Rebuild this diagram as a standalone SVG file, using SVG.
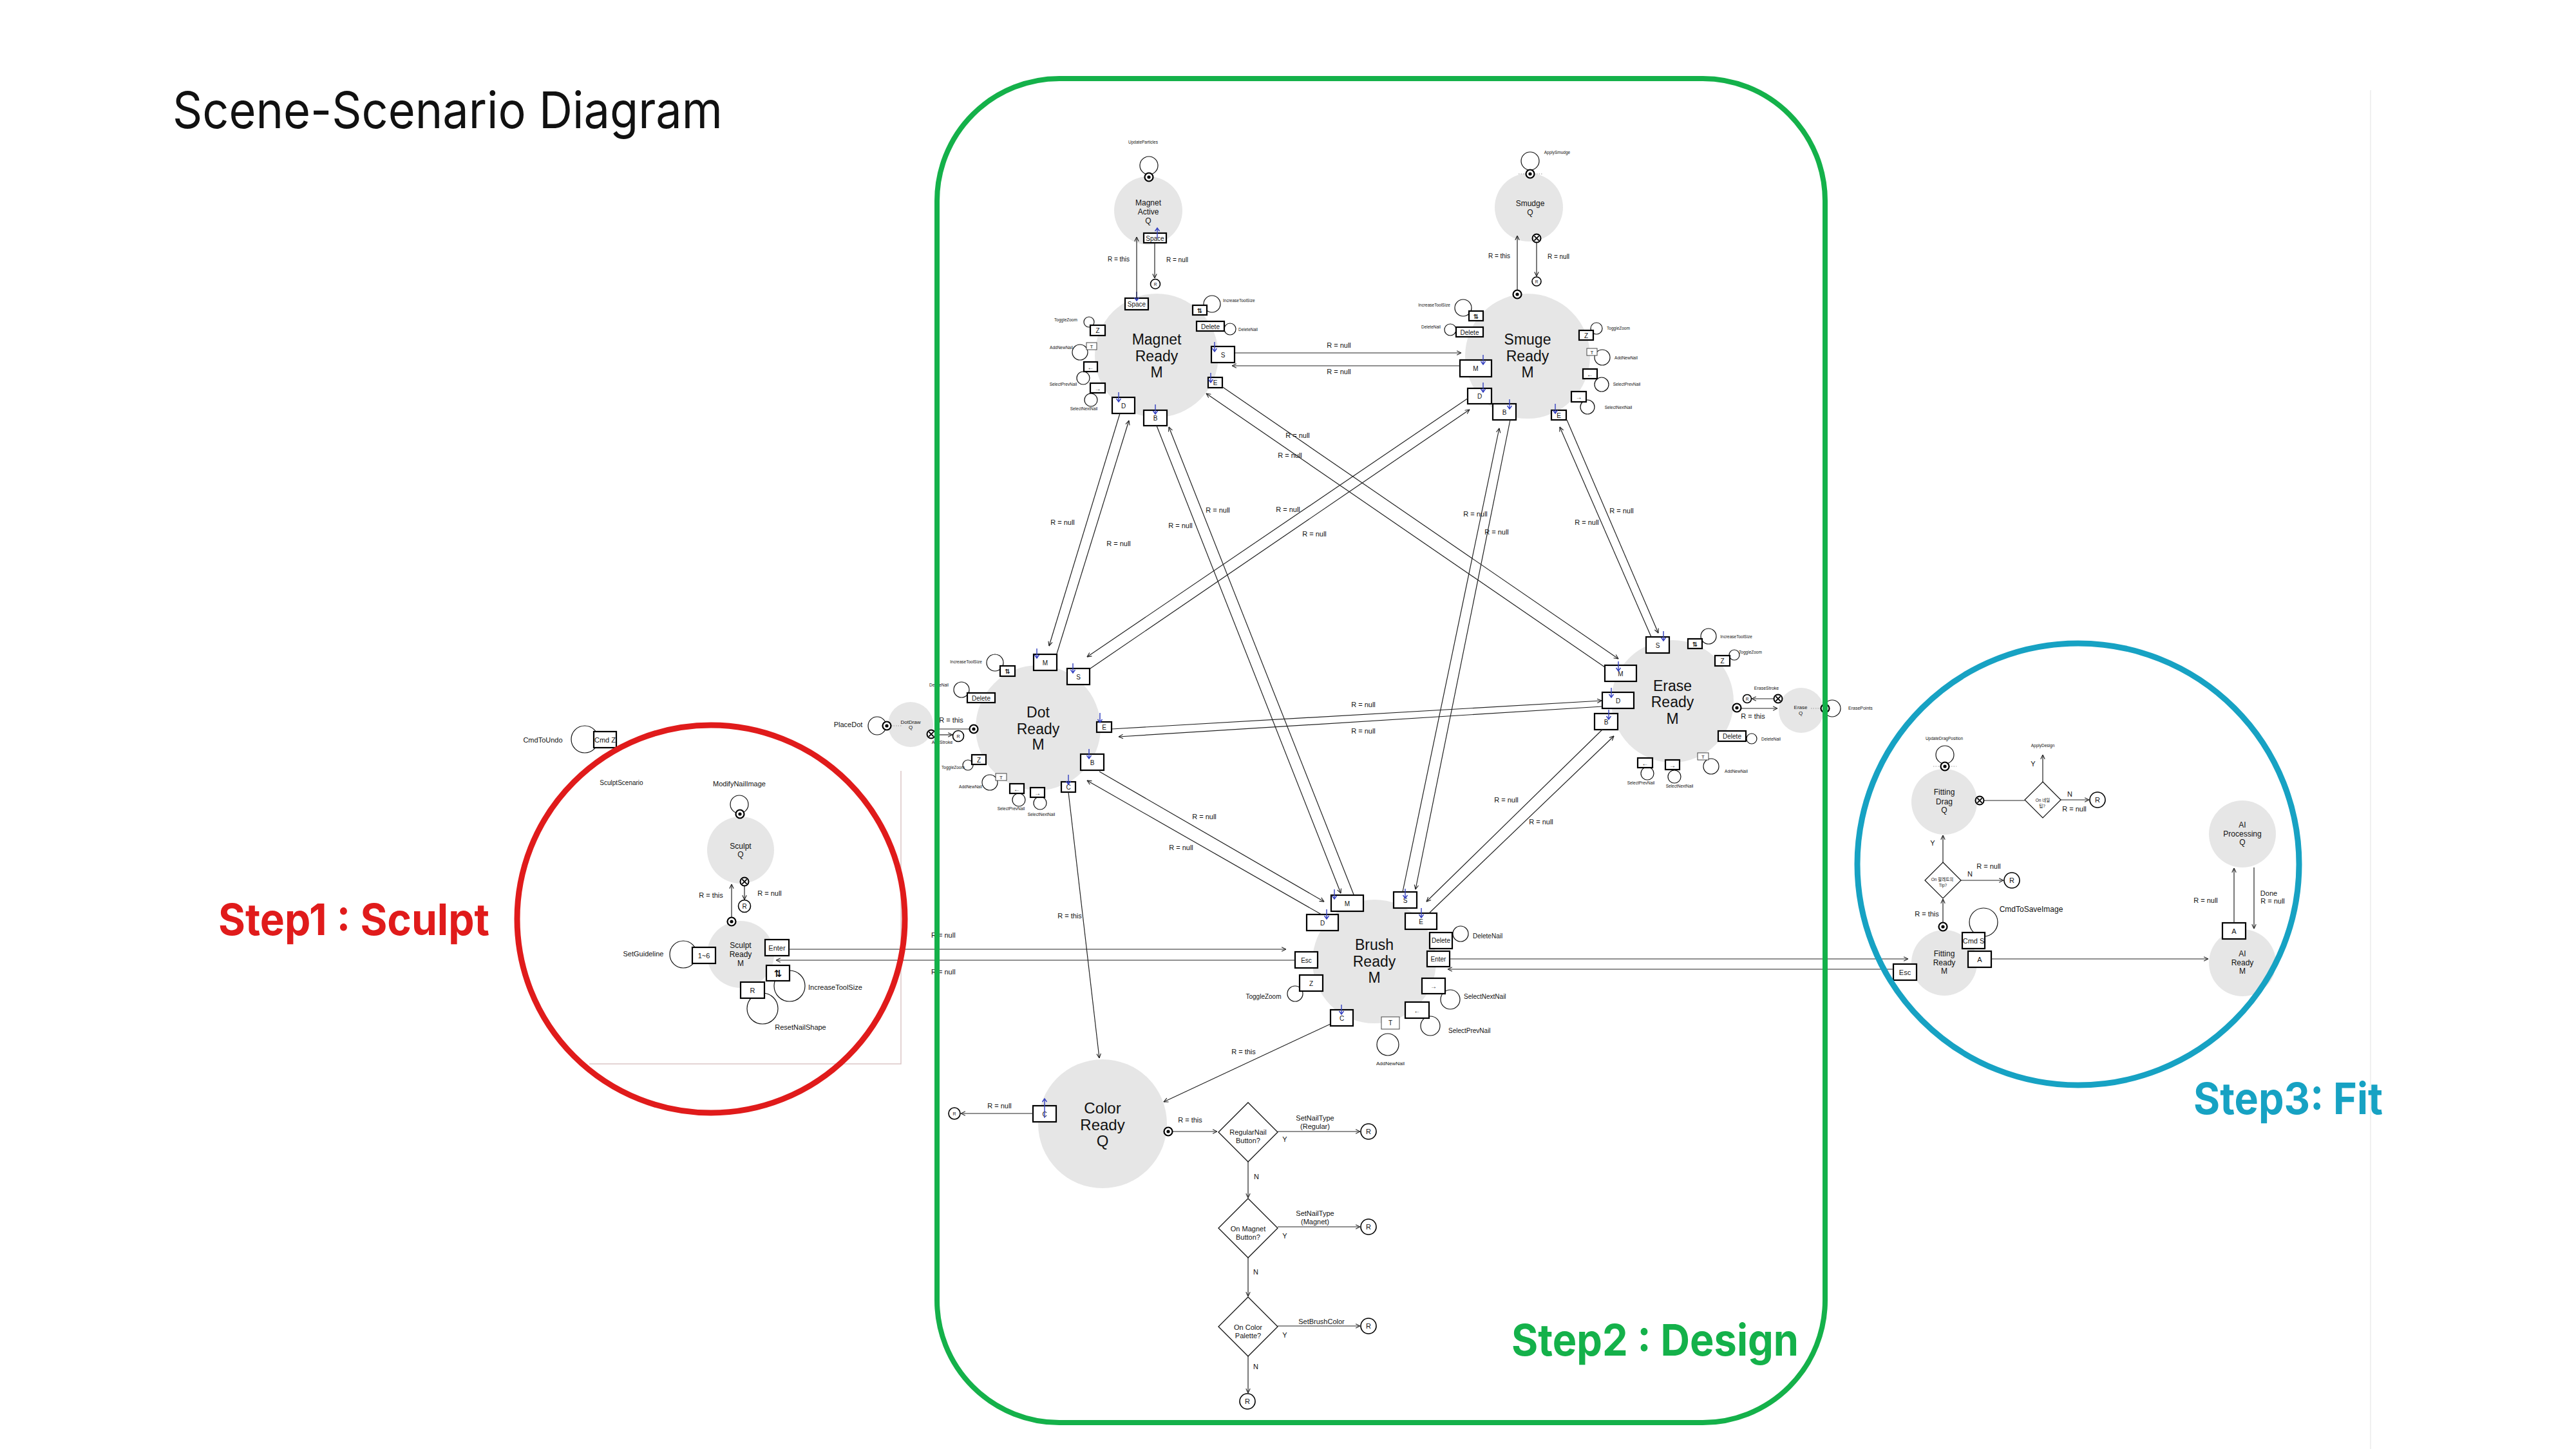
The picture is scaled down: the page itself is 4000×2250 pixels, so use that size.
<svg xmlns="http://www.w3.org/2000/svg" width="4000" height="2250" viewBox="0 0 4000 2250">
<defs>
<style>
text{font-family:"Liberation Sans","Noto Sans CJK KR",Arial,sans-serif;fill:#111;text-anchor:middle}
.st{text-anchor:start}
.n{fill:#e6e6e6}
.b{fill:#fff;stroke:#000;stroke-width:2.2}
.bt{fill:#fff;stroke:#444;stroke-width:1}
.l{fill:none;stroke:#222;stroke-width:1.2}
.la{fill:none;stroke:#222;stroke-width:1.2;marker-end:url(#a)}
.lp{fill:none;stroke:#111;stroke-width:1.2}
.ba{fill:none;stroke:#3440c0;stroke-width:1.4}
.dt{fill:none;stroke:#999;stroke-width:1;stroke-dasharray:1.5 2}
.rc{fill:#fff;stroke:#000;stroke-width:1.6}
.f24{font-size:24px}.f23{font-size:23px}.f12{font-size:12px}.f11{font-size:11px}.f10{font-size:10px}.f8{font-size:8px}.f7{font-size:7px}.f6{font-size:6.5px}
.sym{font-family:"DejaVu Sans",sans-serif;font-weight:bold}
.big{font-family:Inter,"Liberation Sans",sans-serif;text-anchor:start}
</style>
<marker id="a" viewBox="0 0 10 10" refX="9.5" refY="5" markerWidth="8" markerHeight="8" markerUnits="userSpaceOnUse" orient="auto"><path d="M1,1 L9.5,5 L1,9" fill="none" stroke="#222" stroke-width="1.4"/></marker>
<g id="sd"><circle r="6.5" fill="#fff" stroke="#000" stroke-width="2.2"/><circle r="2.6" fill="#000"/></g>
<g id="xc"><circle r="6.5" fill="#fff" stroke="#000" stroke-width="2"/><path d="M-3.6,-3.6L3.6,3.6M-3.6,3.6L3.6,-3.6" stroke="#000" stroke-width="1.8"/></g>
</defs>
<rect width="4000" height="2250" fill="#fff"/>
<line x1="3681" y1="140" x2="3681" y2="2250" stroke="#f0f0f0" stroke-width="2"/>
<text class="big" x="268" y="199" style="font-size:78px" textLength="854" lengthAdjust="spacingAndGlyphs">Scene-Scenario Diagram</text>

<!-- Sculpt scenario frame -->
<path d="M1399,1197V1652H915" fill="none" stroke="#dcc6c6" stroke-width="1.5"/>

<g id="magnet-active">
<circle class="n" cx="1783" cy="327" r="53"/>
<text class="f12" x="1783" y="319">Magnet</text><text class="f12" x="1783" y="333">Active</text><text class="f12" x="1783" y="347">Q</text>
<circle class="lp" cx="1784" cy="257" r="14"/>
<use href="#sd" x="1784" y="275"/>
<text class="f6" x="1775" y="223">UpdateParticles</text>
<rect class="b" x="1776" y="362" width="35" height="15"/><text class="f10" x="1793.5" y="373.5">Space</text>
<path class="ba" d="M1797,370v-16m-3.5,5l3.5,-5l3.5,5"/>
<text class="f10" x="1737" y="406">R = this</text>
<text class="f10" x="1828" y="407">R = null</text>
<circle class="rc" cx="1794" cy="441" r="7.5"/><text class="f6" x="1794" y="443.5">R</text>
</g>

<g id="magnet-ready">
<circle class="n" cx="1796" cy="552" r="96"/>
<text class="f23" x="1796" y="535">Magnet</text><text class="f23" x="1796" y="561">Ready</text><text class="f23" x="1796" y="586">M</text>
<circle class="lp" cx="1882" cy="472" r="13"/><circle class="lp" cx="1910" cy="511" r="9"/><circle class="lp" cx="1691" cy="500" r="8"/><circle class="lp" cx="1677" cy="547" r="12"/><circle class="lp" cx="1682" cy="587" r="10"/><circle class="lp" cx="1694" cy="621" r="10"/>
<rect class="b" x="1747" y="463" width="36" height="18"/><text class="f10" x="1765" y="476">Space</text>
<rect class="b" x="1852" y="474" width="22" height="15"/><text class="f10 sym" x="1863" y="486">⇅</text>
<rect class="b" x="1858" y="499" width="43" height="15"/><text class="f10" x="1879.5" y="510.5">Delete</text>
<rect class="b" x="1881" y="538" width="36" height="25"/><text class="f10" x="1899" y="555">S</text>
<rect class="b" x="1876" y="586" width="22" height="16"/><text class="f10" x="1887" y="598">E</text>
<rect class="b" x="1693" y="505" width="23" height="16"/><text class="f10" x="1704.5" y="517">Z</text>
<rect class="bt" x="1687" y="532" width="16" height="11"/><text class="f8" x="1695" y="541">T</text>
<rect class="b" x="1683" y="562" width="21" height="15"/><text class="f10" x="1693.5" y="573.5">←</text>
<rect class="b" x="1693" y="595" width="23" height="15"/><text class="f10" x="1704.5" y="606.5">→</text>
<rect class="b" x="1727" y="617" width="35" height="25"/><text class="f10" x="1744.5" y="634">D</text>
<rect class="b" x="1776" y="637" width="36" height="24"/><text class="f10" x="1794" y="653">B</text>
<text class="f6 st" x="1899" y="469">IncreaseToolSize</text>
<text class="f6 st" x="1923" y="514">DeleteNail</text>
<text class="f6" x="1655" y="499">ToggleZoom</text>
<text class="f6" x="1648" y="542">AddNewNail</text>
<text class="f6" x="1651" y="599">SelectPrevNail</text>
<text class="f6" x="1683" y="637">SelectNextNail</text>
<path class="ba" d="M1886,531v15m-3.5,-5l3.5,5l3.5,-5M1880,579v15m-3.5,-5l3.5,5l3.5,-5M1737,609v15m-3.5,-5l3.5,5l3.5,-5M1794,628v15m-3.5,-5l3.5,5l3.5,-5M1765,453v14m-3.5,-5l3.5,5l3.5,-5"/>
</g>

<g id="smudge">
<circle class="n" cx="2374" cy="322" r="53"/>
<text class="f12" x="2376" y="320">Smudge</text><text class="f12" x="2376" y="334">Q</text>
<circle class="lp" cx="2376" cy="250" r="14"/>
<line class="dt" x1="2358" y1="270" x2="2396" y2="270"/>
<use href="#sd" x="2376" y="270"/>
<text class="f6" x="2418" y="239">ApplySmudge</text>
<text class="f10" x="2328" y="401">R = this</text>
<text class="f10" x="2420" y="402">R = null</text>
<circle class="rc" cx="2386" cy="437" r="7" stroke-width="1"/><text class="f6" x="2386" y="439.5">R</text>
</g>

<g id="smuge-ready">
<circle class="n" cx="2372" cy="553" r="97"/>
<text class="f23" x="2372" y="535">Smuge</text><text class="f23" x="2372" y="561">Ready</text><text class="f23" x="2372" y="586">M</text>
<circle class="lp" cx="2272" cy="478" r="13"/><circle class="lp" cx="2252" cy="512" r="9"/><circle class="lp" cx="2479" cy="510" r="9"/><circle class="lp" cx="2488" cy="555" r="12"/><circle class="lp" cx="2487" cy="597" r="11"/><circle class="lp" cx="2465" cy="632" r="11"/>
<rect class="b" x="2281" y="483" width="22" height="15"/><text class="f10 sym" x="2292" y="495">⇅</text>
<rect class="b" x="2261" y="508" width="42" height="15"/><text class="f10" x="2282" y="519.5">Delete</text>
<rect class="b" x="2267" y="559" width="49" height="26"/><text class="f10" x="2291.5" y="576">M</text>
<rect class="b" x="2279" y="603" width="37" height="24"/><text class="f10" x="2297.5" y="619">D</text>
<rect class="b" x="2318" y="627" width="36" height="25"/><text class="f10" x="2336" y="643.5">B</text>
<rect class="b" x="2409" y="637" width="23" height="15"/><text class="f10" x="2420.5" y="648.5">E</text>
<rect class="b" x="2452" y="513" width="22" height="15"/><text class="f10" x="2463" y="524.5">Z</text>
<rect class="bt" x="2464" y="541" width="16" height="11"/><text class="f8" x="2472" y="550">T</text>
<rect class="b" x="2458" y="573" width="22" height="15"/><text class="f10" x="2469" y="584.5">←</text>
<rect class="b" x="2440" y="608" width="23" height="16"/><text class="f10" x="2451.5" y="620">→</text>
<text class="f6" x="2227" y="476">IncreaseToolSize</text>
<text class="f6" x="2222" y="510">DeleteNail</text>
<text class="f6" x="2513" y="512">ToggleZoom</text>
<text class="f6" x="2525" y="558">AddNewNail</text>
<text class="f6" x="2526" y="599">SelectPrevNail</text>
<text class="f6" x="2513" y="635">SelectNextNail</text>
<path class="ba" d="M2303,551v15m-3.5,-5l3.5,5l3.5,-5M2303,594v15m-3.5,-5l3.5,5l3.5,-5M2344,620v15m-3.5,-5l3.5,5l3.5,-5M2415,627v15m-3.5,-5l3.5,5l3.5,-5"/>
</g>

<g id="dot-draw">
<circle class="n" cx="1414" cy="1125" r="35"/>
<text class="f8" x="1414" y="1124">DotDraw</text><text class="f8" x="1414" y="1132">Q</text>
<text class="f11" x="1317" y="1129">PlaceDot</text>
<circle class="lp" cx="1362" cy="1127" r="14"/>
<line class="dt" x1="1377" y1="1127" x2="1400" y2="1127"/>
<use href="#sd" x="1377" y="1127"/>
<circle class="rc" cx="1488" cy="1143" r="8.5" stroke-width="1.2"/><text class="f7" x="1488" y="1145.5">R</text>
<text class="f11" x="1477" y="1122">R = this</text>
<text class="f7" x="1463" y="1155">AddStroke</text>
</g>

<g id="dot-ready">
<circle class="n" cx="1612" cy="1130" r="97"/>
<text class="f23" x="1612" y="1114">Dot</text><text class="f23" x="1612" y="1140">Ready</text><text class="f23" x="1612" y="1164">M</text>
<circle class="lp" cx="1545" cy="1029" r="13"/><circle class="lp" cx="1493" cy="1071" r="12"/><circle class="lp" cx="1503" cy="1188" r="8"/><circle class="lp" cx="1537" cy="1215" r="12"/><circle class="lp" cx="1582" cy="1242" r="10"/><circle class="lp" cx="1615" cy="1247" r="10"/>
<rect class="b" x="1605" y="1016" width="36" height="25"/><text class="f10" x="1623" y="1033">M</text>
<rect class="b" x="1657" y="1038" width="35" height="25"/><text class="f10" x="1674.5" y="1055">S</text>
<rect class="b" x="1553" y="1034" width="23" height="16"/><text class="f10 sym" x="1564.5" y="1046">⇅</text>
<rect class="b" x="1502" y="1076" width="43" height="15"/><text class="f10" x="1523.5" y="1087.5">Delete</text>
<rect class="b" x="1703" y="1121" width="23" height="16"/><text class="f10" x="1714.5" y="1133">E</text>
<rect class="b" x="1678" y="1171" width="36" height="25"/><text class="f10" x="1696" y="1188">B</text>
<rect class="b" x="1648" y="1214" width="22" height="16"/><text class="f10" x="1659" y="1226">C</text>
<rect class="b" x="1509" y="1172" width="22" height="15"/><text class="f10" x="1520" y="1183.5">Z</text>
<rect class="bt" x="1546" y="1201" width="17" height="11"/><text class="f8" x="1554.5" y="1210">T</text>
<rect class="b" x="1568" y="1217" width="22" height="15"/><text class="f10" x="1579" y="1228.5">←</text>
<rect class="b" x="1600" y="1223" width="22" height="15"/><text class="f10" x="1611" y="1234.5">→</text>
<text class="f6" x="1500" y="1030">IncreaseToolSize</text>
<text class="f6" x="1458" y="1066">DeleteNail</text>
<text class="f6" x="1480" y="1194">ToggleZoom</text>
<text class="f6" x="1507" y="1224">AddNewNail</text>
<text class="f6" x="1570" y="1258">SelectPrevNail</text>
<text class="f6" x="1617" y="1267">SelectNextNail</text>
<path class="ba" d="M1610,1007v15m-3.5,-5l3.5,5l3.5,-5M1666,1030v15m-3.5,-5l3.5,5l3.5,-5M1708,1107v15m-3.5,-5l3.5,5l3.5,-5M1691,1163v15m-3.5,-5l3.5,5l3.5,-5M1659,1203v15m-3.5,-5l3.5,5l3.5,-5"/>
</g>

<g id="erase-ready">
<circle class="n" cx="2597" cy="1089" r="95"/>
<text class="f23" x="2597" y="1073">Erase</text><text class="f23" x="2597" y="1098">Ready</text><text class="f23" x="2597" y="1124">M</text>
<circle class="lp" cx="2653" cy="988" r="12"/><circle class="lp" cx="2693" cy="1017" r="8"/><circle class="lp" cx="2720" cy="1147" r="8"/><circle class="lp" cx="2657" cy="1190" r="12"/><circle class="lp" cx="2558" cy="1201" r="10"/><circle class="lp" cx="2600" cy="1206" r="10"/>
<rect class="b" x="2556" y="989" width="36" height="25"/><text class="f10" x="2574" y="1006">S</text>
<rect class="b" x="2621" y="992" width="22" height="15"/><text class="f10 sym" x="2632" y="1004">⇅</text>
<rect class="b" x="2663" y="1018" width="23" height="16"/><text class="f10" x="2674.5" y="1030">Z</text>
<rect class="b" x="2492" y="1033" width="49" height="25"/><text class="f10" x="2516.5" y="1050">M</text>
<rect class="b" x="2488" y="1075" width="49" height="25"/><text class="f10" x="2512.5" y="1092">D</text>
<rect class="b" x="2476" y="1108" width="36" height="25"/><text class="f10" x="2494" y="1125">B</text>
<rect class="b" x="2668" y="1135" width="43" height="16"/><text class="f10" x="2689.5" y="1147">Delete</text>
<rect class="bt" x="2636" y="1169" width="17" height="11"/><text class="f8" x="2644.5" y="1178">T</text>
<rect class="b" x="2543" y="1177" width="23" height="15"/><text class="f10" x="2554.5" y="1188.5">←</text>
<rect class="b" x="2586" y="1180" width="22" height="15"/><text class="f10" x="2597" y="1191.5">→</text>
<text class="f6" x="2696" y="991">IncreaseToolSize</text>
<text class="f6" x="2718" y="1015">ToggleZoom</text>
<text class="f6" x="2750" y="1150">DeleteNail</text>
<text class="f6" x="2696" y="1200">AddNewNail</text>
<text class="f6" x="2548" y="1218">SelectPrevNail</text>
<text class="f6" x="2608" y="1223">SelectNextNail</text>
<path class="ba" d="M2583,980v15m-3.5,-5l3.5,5l3.5,-5M2513,1027v15m-3.5,-5l3.5,5l3.5,-5M2502,1068v15m-3.5,-5l3.5,5l3.5,-5M2498,1102v15m-3.5,-5l3.5,5l3.5,-5"/>
<text class="f7" x="2743" y="1071">EraseStroke</text>
<circle class="rc" cx="2713" cy="1085" r="6.5" stroke="#666" stroke-width="1"/><text class="f6" x="2713" y="1087.5" fill="#666">R</text>
<text class="f11" x="2722" y="1116">R = this</text>
</g>

<g id="erase">
<circle class="n" cx="2797" cy="1103" r="35"/>
<text class="f8" x="2796" y="1101">Erase</text><text class="f8" x="2796" y="1110">Q</text>
<circle class="lp" cx="2845" cy="1100" r="13"/>
<line class="dt" x1="2812" y1="1100" x2="2840" y2="1100"/>
<use href="#sd" x="2834" y="1100"/>
<text class="f7 st" x="2870" y="1102">ErasePoints</text>
</g>

<g id="brush-ready">
<circle class="n" cx="2134" cy="1493" r="96"/>
<text class="f23" x="2134" y="1475">Brush</text><text class="f23" x="2134" y="1501">Ready</text><text class="f23" x="2134" y="1526">M</text>
<circle class="lp" cx="2268" cy="1450" r="12"/><circle class="lp" cx="2252" cy="1552" r="15"/><circle class="lp" cx="2221" cy="1593" r="15"/><circle class="lp" cx="2155" cy="1622" r="17"/><circle class="lp" cx="2011" cy="1543" r="12"/>
<rect class="b" x="2067" y="1390" width="50" height="25"/><text class="f10" x="2092" y="1407">M</text>
<rect class="b" x="2029" y="1420" width="49" height="25"/><text class="f10" x="2053.5" y="1437">D</text>
<rect class="b" x="2164" y="1385" width="36" height="25"/><text class="f10" x="2182" y="1402">S</text>
<rect class="b" x="2182" y="1418" width="49" height="25"/><text class="f10" x="2206.5" y="1435">E</text>
<rect class="b" x="2220" y="1448" width="35" height="25"/><text class="f10" x="2237.5" y="1464">Delete</text>
<rect class="b" x="2216" y="1477" width="35" height="24"/><text class="f10" x="2233.5" y="1493">Enter</text>
<rect class="b" x="2011" y="1478" width="35" height="25"/><text class="f10" x="2028.5" y="1495">Esc</text>
<rect class="b" x="2018" y="1514" width="36" height="25"/><text class="f10" x="2036" y="1531">Z</text>
<rect class="b" x="2208" y="1519" width="36" height="24"/><text class="f10" x="2226" y="1535">→</text>
<rect class="b" x="2182" y="1556" width="37" height="25"/><text class="f10" x="2200.5" y="1573">←</text>
<rect class="bt" x="2145" y="1579" width="28" height="19"/><text class="f10" x="2159" y="1592">T</text>
<rect class="b" x="2066" y="1568" width="35" height="25"/><text class="f10" x="2083.5" y="1585">C</text>
<text class="f10 st" x="2287" y="1457">DeleteNail</text>
<text class="f10 st" x="2273" y="1551">SelectNextNail</text>
<text class="f10 st" x="2249" y="1604">SelectPrevNail</text>
<text class="f8" x="2159" y="1654">AddNewNail</text>
<text class="f10" x="1962" y="1551">ToggleZoom</text>
<path class="ba" d="M2072,1381v15m-3.5,-5l3.5,5l3.5,-5M2060,1412v15m-3.5,-5l3.5,5l3.5,-5M2182,1380v15m-3.5,-5l3.5,5l3.5,-5M2207,1410v15m-3.5,-5l3.5,5l3.5,-5M2083,1560v15m-3.5,-5l3.5,5l3.5,-5"/>
</g>

<g id="color-ready">
<circle class="n" cx="1712" cy="1745" r="100"/>
<text class="f24" x="1712" y="1729">Color</text><text class="f24" x="1712" y="1755">Ready</text><text class="f24" x="1712" y="1780">Q</text>
<rect class="b" x="1604" y="1717" width="36" height="25"/><text class="f10" x="1622" y="1734">C</text>
<path class="ba" d="M1622,1736v-30m-3.5,5l3.5,-5l3.5,5"/>
<circle class="rc" cx="1482" cy="1729" r="9" stroke-width="1.2"/><text class="f7" x="1482" y="1731.5">R</text>
<text class="f11" x="1552" y="1721">R = null</text>
<text class="f11" x="1848" y="1743">R = this</text>
</g>

<g id="color-decisions">
<polygon points="1938,1712 1984,1758 1938,1804 1892,1758" fill="#fff" stroke="#111" stroke-width="1.3"/>
<text class="f11" x="1938" y="1762">RegularNail</text><text class="f11" x="1938" y="1775">Button?</text>
<polygon points="1938,1861 1984,1907 1938,1953 1892,1907" fill="#fff" stroke="#111" stroke-width="1.3"/>
<text class="f11" x="1938" y="1912">On Magnet</text><text class="f11" x="1938" y="1925">Button?</text>
<polygon points="1938,2014 1984,2060 1938,2106 1892,2060" fill="#fff" stroke="#111" stroke-width="1.3"/>
<text class="f11" x="1938" y="2065">On Color</text><text class="f11" x="1938" y="2078">Palette?</text>
<text class="f11" x="2042" y="1740">SetNailType</text><text class="f11" x="2042" y="1753">(Regular)</text>
<text class="f11" x="2042" y="1888">SetNailType</text><text class="f11" x="2042" y="1901">(Magnet)</text>
<text class="f11" x="2052" y="2056">SetBrushColor</text>
<text class="f11" x="1995" y="1773">Y</text><text class="f11" x="1995" y="1923">Y</text><text class="f11" x="1995" y="2077">Y</text>
<text class="f11" x="1951" y="1831">N</text><text class="f11" x="1950" y="1979">N</text><text class="f11" x="1950" y="2126">N</text>
<circle class="rc" cx="2125" cy="1757" r="12"/><text class="f11" x="2125" y="1761">R</text>
<circle class="rc" cx="2125" cy="1905" r="12"/><text class="f11" x="2125" y="1909">R</text>
<circle class="rc" cx="2125" cy="2059" r="12"/><text class="f11" x="2125" y="2063">R</text>
<circle class="rc" cx="1937" cy="2176" r="12"/><text class="f11" x="1937" y="2180">R</text>
</g>

<g id="sculpt">
<circle class="n" cx="1150" cy="1320" r="52"/>
<text class="f12" x="1150" y="1318">Sculpt</text><text class="f12" x="1150" y="1331">Q</text>
<circle class="lp" cx="1148" cy="1249" r="14"/>
<use href="#sd" x="1149" y="1264"/>
<text class="f11" x="1148" y="1221">ModifyNailImage</text>
<text class="f10" x="965" y="1219" fill="#e04545">SculptScenario</text>
<text class="f11" x="1104" y="1394">R = this</text>
<text class="f11" x="1195" y="1391">R = null</text>
<circle class="rc" cx="1156" cy="1407" r="9.5"/><text class="f10" x="1156" y="1411">R</text>
</g>

<g id="sculpt-ready">
<circle class="n" cx="1150" cy="1482" r="52"/>
<text class="f12" x="1150" y="1472">Sculpt</text><text class="f12" x="1150" y="1486">Ready</text><text class="f12" x="1150" y="1500">M</text>
<circle class="lp" cx="1061" cy="1482" r="21"/><circle class="lp" cx="1226" cy="1531" r="24"/><circle class="lp" cx="1184" cy="1566" r="24"/><circle class="lp" cx="908" cy="1148" r="21"/>
<rect class="b" x="1075" y="1471" width="36" height="25"/><text class="f11" x="1093" y="1488">1~6</text>
<rect class="b" x="1188" y="1459" width="37" height="25"/><text class="f11" x="1206.5" y="1476">Enter</text>
<rect class="b" x="1190" y="1499" width="36" height="24"/><text class="sym" style="font-size:15px" x="1208" y="1517">⇅</text>
<rect class="b" x="1150" y="1525" width="37" height="25"/><text class="f11" x="1168.5" y="1542">R</text>
<rect class="b" x="922" y="1136" width="35" height="25"/><text class="f11" x="939.5" y="1153">Cmd Z</text>
<text class="f11" x="999" y="1485">SetGuideline</text>
<text class="f11 st" x="1255" y="1537">IncreaseToolSize</text>
<text class="f11" x="1243" y="1599">ResetNailShape</text>
<text class="f11" x="843" y="1153">CmdToUndo</text>
</g>

<g id="fitting-drag">
<circle class="n" cx="3019" cy="1245" r="51"/>
<text class="f12" x="3019" y="1234">Fitting</text><text class="f12" x="3019" y="1249">Drag</text><text class="f12" x="3019" y="1262">Q</text>
<circle class="lp" cx="3020" cy="1172" r="14"/>
<line class="dt" x1="3002" y1="1190" x2="3038" y2="1190"/>
<use href="#sd" x="3020" y="1190"/>
<text class="f6" x="3019" y="1149">UpdateDragPosition</text>
<polygon points="3172,1214 3200,1242 3172,1270 3144,1242" fill="#fff" stroke="#111" stroke-width="1.2"/>
<text class="f6" x="3172" y="1245">On 네일</text><text class="f6" x="3171" y="1254">팁?</text>
<text class="f11" x="3157" y="1190">Y</text>
<text class="f6" x="3172" y="1160">ApplyDesign</text>
<text class="f11" x="3214" y="1237">N</text>
<text class="f11" x="3221" y="1260">R = null</text>
<circle class="rc" cx="3257" cy="1242" r="12"/><text class="f11" x="3257" y="1246">R</text>
</g>

<g id="fitting-ready">
<circle class="n" cx="3019" cy="1495" r="51"/>
<text class="f12" x="3019" y="1485">Fitting</text><text class="f12" x="3019" y="1499">Ready</text><text class="f12" x="3019" y="1512">M</text>
<polygon points="3017,1339 3045,1367 3017,1395 2989,1367" fill="#fff" stroke="#111" stroke-width="1.2"/>
<text class="f6" x="3016" y="1368">On 팔레트의</text><text class="f6" x="3017" y="1377">Tip?</text>
<text class="f11" x="3001" y="1313">Y</text>
<text class="f11" x="3059" y="1361">N</text>
<text class="f11" x="3088" y="1349">R = null</text>
<circle class="rc" cx="3124" cy="1367" r="12"/><text class="f11" x="3124" y="1371">R</text>
<text class="f11" x="2992" y="1423">R = this</text>
<circle class="lp" cx="3080" cy="1432" r="22"/>
<rect class="b" x="3047" y="1448" width="35" height="25"/><text class="f11" x="3064.5" y="1465">Cmd S</text>
<text class="f12" x="3154" y="1416">CmdToSaveImage</text>
<rect class="b" x="3056" y="1477" width="36" height="25"/><text class="f11" x="3074" y="1494">A</text>
<rect class="b" x="2940" y="1497" width="36" height="25"/><text class="f11" x="2958" y="1514">Esc</text>
</g>

<g id="ai-processing">
<circle class="n" cx="3482" cy="1295" r="52"/>
<text class="f12" x="3482" y="1285">AI</text><text class="f12" x="3482" y="1299">Processing</text><text class="f12" x="3482" y="1312">Q</text>
</g>

<g id="ai-ready">
<circle class="n" cx="3482" cy="1495" r="52"/>
<text class="f12" x="3482" y="1485">AI</text><text class="f12" x="3482" y="1499">Ready</text><text class="f12" x="3482" y="1512">M</text>
<rect class="b" x="3451" y="1433" width="36" height="25"/><text class="f11" x="3469" y="1450">A</text>
<text class="f11" x="3425" y="1402">R = null</text>
<text class="f11" x="3523" y="1391">Done</text><text class="f11" x="3529" y="1403">R = null</text>
</g>

<g id="connectors">
<!-- magnet active -->
<path class="la" d="M1765,463V368"/>
<path class="la" d="M1793,377V432"/>
<!-- smudge -->
<path class="la" d="M2386,377V429"/>
<path class="la" d="M2356,450V366"/>
<!-- pairs -->
<path class="la" d="M1917,548H2269"/><path class="la" d="M2267,568H1913"/>
<path class="la" d="M1739,642L1629,1003"/><path class="la" d="M1641,1015L1753,653"/>
<path class="la" d="M1796,661L2082,1387"/><path class="la" d="M2102,1389L1815,663"/>
<path class="la" d="M1897,600L2513,1023"/><path class="la" d="M2492,1036L1873,611"/>
<path class="la" d="M2280,618L1688,1020"/><path class="la" d="M1693,1038L2282,636"/>
<path class="la" d="M2345,652L2198,1381"/><path class="la" d="M2178,1385L2328,665"/>
<path class="la" d="M2433,652L2575,983"/><path class="la" d="M2564,989L2422,663"/>
<path class="la" d="M1726,1132L2487,1088"/><path class="la" d="M2488,1097L1737,1144"/>
<path class="la" d="M1707,1198L2056,1400"/><path class="la" d="M2052,1420L1688,1212"/>
<path class="la" d="M2488,1133L2215,1400"/><path class="la" d="M2219,1418L2506,1143"/>
<path class="la" d="M1659,1230L1707,1643"/>
<path class="la" d="M2066,1590L1807,1711"/>
<g class="f11">
<text x="2079" y="540">R = null</text><text x="2079" y="581">R = null</text>
<text x="1650" y="815">R = null</text><text x="1737" y="848">R = null</text>
<text x="1891" y="796">R = null</text><text x="1833" y="820">R = null</text>
<text x="2015" y="680">R = null</text><text x="2003" y="711">R = null</text>
<text x="2000" y="795">R = null</text><text x="2041" y="833">R = null</text>
<text x="2291" y="802">R = null</text><text x="2324" y="830">R = null</text>
<text x="2518" y="797">R = null</text><text x="2464" y="815">R = null</text>
<text x="2117" y="1098">R = null</text><text x="2117" y="1139">R = null</text>
<text x="1870" y="1272">R = null</text><text x="1834" y="1320">R = null</text>
<text x="2339" y="1246">R = null</text><text x="2393" y="1280">R = null</text>
<text x="1661" y="1426">R = this</text>
<text x="1931" y="1637">R = this</text>
<text class="st" x="1446" y="1456">R = null</text>
<text class="st" x="1446" y="1513">R = null</text>
</g>
<!-- sculpt <-> brush -->
<path class="la" d="M1225,1474H1997"/><path class="la" d="M2011,1491H1205"/>
<!-- brush <-> fitting -->
<path class="la" d="M2251,1489H2963"/><path class="la" d="M2940,1505H2248"/>
<!-- dot draw -->
<path class="la" d="M1505,1132H1452"/>
<path class="la" d="M1453,1141H1479"/>
<use href="#xc" x="1446" y="1140"/><use href="#sd" x="1512" y="1132"/>
<!-- erase -->
<path class="la" d="M2704,1100H2760"/>
<path class="la" d="M2754,1085H2720"/>
<use href="#xc" x="2761" y="1085"/><use href="#sd" x="2697" y="1099"/>
<!-- smudge marks -->
<use href="#xc" x="2386" y="370"/><use href="#sd" x="2356" y="457"/>
<!-- color -->
<path class="la" d="M1604,1729H1492"/>
<path class="la" d="M1821,1757H1890"/>
<use href="#sd" x="1814" y="1757"/>
<path class="la" d="M1984,1757H2112"/><path class="la" d="M1984,1905H2112"/><path class="la" d="M1984,2059H2112"/>
<path class="la" d="M1938,1804V1860"/><path class="la" d="M1938,1953V2013"/><path class="la" d="M1938,2106V2163"/>
<!-- sculpt -->
<path class="la" d="M1136,1424V1373"/>
<path class="la" d="M1156,1376V1397"/>
<use href="#xc" x="1156" y="1369"/><use href="#sd" x="1136" y="1431"/>
<!-- fitting -->
<path class="la" d="M3017,1432V1396"/>
<path class="la" d="M3017,1339V1297"/>
<path class="la" d="M3045,1367H3111"/>
<use href="#sd" x="3017" y="1439"/>
<path class="l" d="M3081,1243H3144"/>
<use href="#xc" x="3074" y="1243"/>
<path class="la" d="M3172,1214V1172"/>
<path class="la" d="M3200,1242H3244"/>
<path class="la" d="M3092,1489H3429"/>
<path class="la" d="M3469,1433V1348"/>
<path class="la" d="M3500,1347V1442"/>
</g>

<!-- scenario frames -->
<rect x="1455" y="122" width="1379" height="2087" rx="190" fill="none" stroke="#14b14a" stroke-width="8"/>
<circle cx="1104" cy="1427" r="301" fill="none" stroke="#e01b1b" stroke-width="9"/>
<circle cx="3227" cy="1342" r="343" fill="none" stroke="#17a2c3" stroke-width="9"/>
<text class="big" x="339" y="1452" style="font-size:68px;font-weight:700;fill:#e01b1b" textLength="421" lengthAdjust="spacingAndGlyphs">Step1 : Sculpt</text>
<text class="big" x="2347" y="2105" style="font-size:68px;font-weight:700;fill:#14b14a" textLength="446" lengthAdjust="spacingAndGlyphs">Step2 : Design</text>
<text class="big" x="3406" y="1730" style="font-size:68px;font-weight:700;fill:#17a2c3" textLength="294" lengthAdjust="spacingAndGlyphs">Step3: Fit</text>
</svg>
